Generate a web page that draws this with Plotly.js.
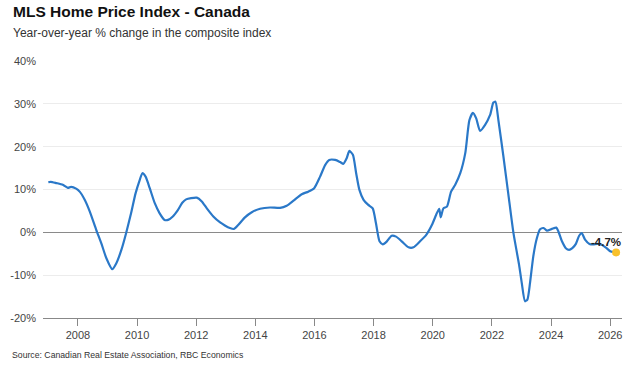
<!DOCTYPE html>
<html>
<head>
<meta charset="utf-8">
<script src="https://cdn.plot.ly/plotly-3.0.1.min.js"></script>
<style>html,body{margin:0;padding:0;background:#fff;}#chart{width:640px;height:372px;}</style>
</head>
<body>
<div id="chart"></div>
<script>
// Decimal-year positions of readings
const years = [2007.00, 2007.08, 2007.27, 2007.49, 2007.66, 2007.77, 2007.94, 2008.06, 2008.23, 2008.40,
  2008.62, 2008.79, 2008.96, 2009.16, 2009.30, 2009.47, 2009.63, 2009.80, 2009.95, 2010.09,
  2010.18, 2010.29, 2010.43, 2010.60, 2010.76, 2010.93, 2011.05, 2011.21, 2011.38, 2011.53,
  2011.66, 2011.83, 2012.02, 2012.19, 2012.36, 2012.58, 2012.81, 2012.97, 2013.14, 2013.28,
  2013.42, 2013.65, 2013.88, 2014.16, 2014.50, 2014.84, 2015.06, 2015.29, 2015.57, 2015.79,
  2015.99, 2016.19, 2016.36, 2016.50, 2016.70, 2016.87, 2016.98, 2017.09, 2017.18, 2017.30,
  2017.41, 2017.52, 2017.66, 2017.82, 2017.97, 2018.08, 2018.20, 2018.31, 2018.45, 2018.61,
  2018.76, 2018.95, 2019.18, 2019.35, 2019.57, 2019.78, 2019.97, 2020.14, 2020.22, 2020.27,
  2020.36, 2020.48, 2020.62, 2020.76, 2020.93, 2021.10, 2021.24, 2021.36, 2021.47, 2021.60,
  2021.77, 2021.94, 2022.05, 2022.12, 2022.22, 2022.39, 2022.56, 2022.73, 2022.92, 2023.01,
  2023.12, 2023.20, 2023.29, 2023.40, 2023.52, 2023.63, 2023.75, 2023.86, 2024.03, 2024.18,
  2024.25, 2024.37, 2024.50, 2024.61, 2024.72, 2024.84, 2024.95, 2025.04, 2025.15, 2025.30,
  2025.43, 2025.57, 2025.71, 2025.88, 2026.02, 2026.20];
// Year-over-year % change in the composite MLS HPI
const yoyChange = [11.7, 11.8, 11.5, 11.1, 10.4, 10.6, 10.2, 9.5, 7.6, 4.9,
  0.6, -2.5, -6.0, -8.6, -7.2, -4.1, -0.2, 4.5, 9.1, 12.2,
  13.8, 13.0, 10.3, 6.8, 4.5, 2.9, 2.9, 3.7, 5.2, 6.9,
  7.7, 8.0, 8.1, 7.2, 5.6, 3.7, 2.3, 1.6, 1.0, 0.8,
  1.7, 3.5, 4.7, 5.5, 5.8, 5.7, 6.2, 7.4, 8.9, 9.5,
  10.3, 13.0, 15.7, 16.9, 16.9, 16.4, 16.0, 17.3, 19.0, 18.1,
  13.8, 9.9, 7.6, 6.4, 5.6, 2.1, -2.1, -2.8, -2.1, -0.8,
  -1.0, -2.1, -3.5, -3.5, -2.1, -0.6, 1.7, 4.5, 5.5, 3.5,
  5.6, 6.0, 9.5, 11.1, 13.8, 18.5, 26.2, 27.9, 26.6, 23.7,
  25.1, 27.4, 30.3, 30.5, 26.2, 17.7, 8.7, -0.2, -7.6, -11.8,
  -16.1, -15.7, -11.8, -5.6, -1.4, 0.7, 1.0, 0.4, 0.8, 1.1,
  0.2, -2.1, -3.7, -4.1, -3.7, -2.7, -0.8, -0.2, -1.7, -2.7,
  -2.8, -2.7, -2.9, -3.7, -4.5, -4.7];
const xTickVals = [2008, 2010, 2012, 2014, 2016, 2018, 2020, 2022, 2024, 2026];
const xTickText = ['2008', '2010', '2012', '2014', '2016', '2018', '2020', '2022', '2024', '2026'];
const yTickVals = [-20, -10, 0, 10, 20, 30, 40];
const yTickText = ['-20%', '-10%', '0%', '10%', '20%', '30%', '40%'];
const lastLabel = '-4.7%';

const n = years.length;
const FONT = 'Liberation Sans, Arial, Helvetica, sans-serif';
const PW = 579, PH = 257; // plot area size in px
const LEFT = -32 / PW;   // text left edge at x=11px

const traces = [
  {
    x: years, y: yoyChange, type: 'scatter', mode: 'lines',
    line: {color: '#2a78c8', width: 2.2, shape: 'spline', smoothing: 0.6},
    hoverinfo: 'skip', showlegend: false
  },
  {
    x: [years[n - 1]], y: [yoyChange[n - 1]], type: 'scatter', mode: 'markers',
    marker: {color: '#f8c12c', size: 8},
    hoverinfo: 'skip', showlegend: false
  }
];

const layout = {
  width: 640, height: 372,
  margin: {l: 43, r: 18, t: 61, b: 54},
  paper_bgcolor: '#fff', plot_bgcolor: '#fff',
  font: {family: FONT, color: '#444', size: 11},
  xaxis: {
    range: [2006.82, 2026.4],
    tickvals: xTickVals, ticktext: xTickText,
    ticks: 'outside', ticklen: 7, tickcolor: '#888', tickwidth: 1,
    showline: true, linecolor: '#888', linewidth: 1,
    showgrid: false, zeroline: false,
    tickfont: {size: 11, color: '#444'}
  },
  yaxis: {
    range: [-20, 40],
    tickvals: yTickVals, ticktext: yTickText,
    showgrid: true, gridcolor: '#ececec', gridwidth: 1,
    zeroline: true, zerolinecolor: '#8a8a8a', zerolinewidth: 1,
    showline: false, ticks: '',
    ticklabelstandoff: 6,
    tickfont: {size: 11, color: '#444'}
  },
  annotations: [
    {xref: 'paper', yref: 'paper', x: LEFT, y: 1 + 50 / PH, xanchor: 'left', yanchor: 'middle',
     text: '<b>MLS Home Price Index - Canada</b>', showarrow: false,
     font: {family: FONT, size: 15.5, color: '#111'}},
    {xref: 'paper', yref: 'paper', x: LEFT, y: 1 + 28 / PH, xanchor: 'left', yanchor: 'middle',
     text: 'Year-over-year % change in the composite index', showarrow: false,
     font: {family: FONT, size: 12, color: '#333'}},
    {xref: 'paper', yref: 'paper', x: LEFT - 1 / PW, y: -37 / PH, xanchor: 'left', yanchor: 'middle',
     text: 'Source: Canadian Real Estate Association, RBC Economics', showarrow: false,
     font: {family: FONT, size: 8.7, color: '#333'}},
    {xref: 'x', yref: 'y', x: years[n - 1], y: yoyChange[n - 1], xanchor: 'right', yanchor: 'middle',
     xshift: 7, yshift: 10, text: '<b>' + lastLabel + '</b>', showarrow: false,
     font: {family: FONT, size: 11.5, color: '#222'}}
  ]
};

Plotly.newPlot('chart', traces, layout, {displayModeBar: false, staticPlot: true});
</script>
</body>
</html>
